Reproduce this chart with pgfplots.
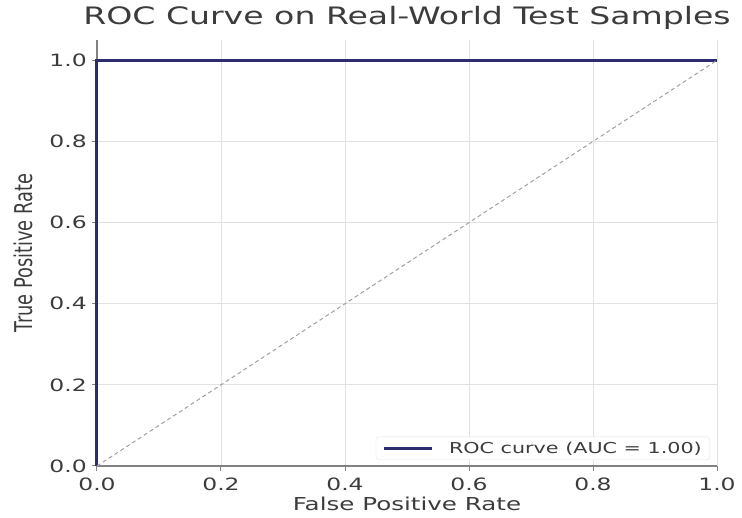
\documentclass[border=0pt]{standalone}
\usepackage{fontspec}
\setmainfont{DejaVu Sans}[FakeStretch=1.38]
\newfontfamily\ylabfont{DejaVu Sans}[FakeStretch=0.725]
\usepackage{pgfplots}
\pgfplotsset{compat=1.18}
\definecolor{roc}{RGB}{45,45,110}
\definecolor{txt}{RGB}{60,60,60}
\definecolor{gridc}{RGB}{226,226,226}
\definecolor{spine}{RGB}{130,130,130}
\definecolor{diag}{RGB}{160,160,160}
\begin{document}
\begin{tikzpicture}
\path (-97pt,-52pt) rectangle (645pt,466pt);
\begin{axis}[
  scale only axis, width=620pt, height=426pt,
  at={(0pt,0pt)}, anchor=south west,
  xmin=0, xmax=1, ymin=0, ymax=1.05,
  axis x line*=bottom, axis y line*=left,
  axis line style={spine, line width=2.5pt},
  xtick={0,0.2,0.4,0.6,0.8,1}, ytick={0,0.2,0.4,0.6,0.8,1},
  /pgf/number format/.cd, fixed, fixed zerofill, precision=1, assume math mode=true, /pgfplots/.cd,
  grid=major, major grid style={gridc, line width=0.8pt},
  tick align=outside, major tick length=5pt, tick style={spine, line width=1pt},
  ticklabel style={font=\fontsize{17}{20}\selectfont, text=txt, inner sep=0pt},
  xticklabel style={anchor=north, yshift=-7pt},
  yticklabel style={anchor=east, xshift=-5pt},
  title={ROC Curve on Real-World Test Samples},
  title style={at={([yshift=9pt]axis description cs:0.5,1)}, anchor=base, font=\fontsize{24}{28}\selectfont, text=txt, inner sep=0pt},
  xlabel={False Positive Rate},
  xlabel style={at={([yshift=-45pt]axis description cs:0.5,0)}, anchor=base, font=\fontsize{17.8}{20}\selectfont, text=txt, inner sep=0pt},
  ylabel={True Positive Rate},
  ylabel style={at={([xshift=-64pt]axis description cs:0,0.5)}, rotate=0, anchor=base, font=\fontsize{24.5}{28}\ylabfont, text=txt, inner sep=0pt},
  clip=false,
  legend style={at={(rel axis cs:1,0)}, anchor=south east, xshift=-7pt, yshift=6pt,
    draw=gridc, rounded corners=3pt, fill=white, font=\fontsize{15}{18}\selectfont, text=txt,
    inner xsep=6pt, inner ysep=3pt, /tikz/column sep=14pt},
  legend image code/.code={\draw[#1] (0pt,0pt) -- (48pt,0pt);},
]
\addplot[roc, line width=3pt] coordinates {(0,0) (0,1) (1,1)};
\addlegendentry{ROC curve (AUC = 1.00)}
\addplot[diag, dash pattern=on 4pt off 3pt, line width=1pt, forget plot] coordinates {(0,0) (1,1)};
\end{axis}
\end{tikzpicture}
\end{document}
